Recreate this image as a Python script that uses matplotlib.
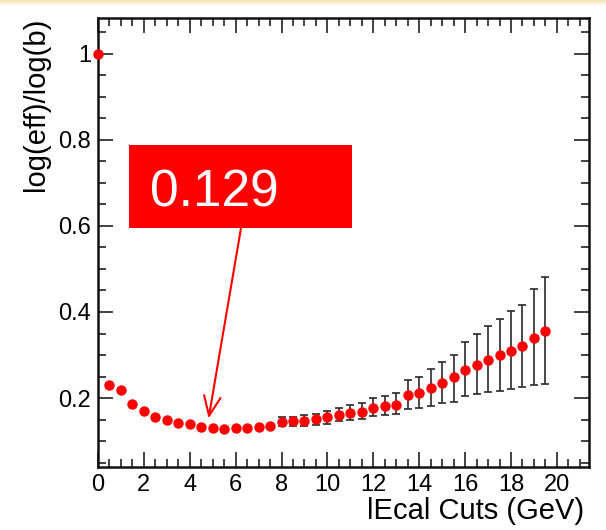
import matplotlib
matplotlib.use("Agg")
import matplotlib.pyplot as plt
from matplotlib.patches import Rectangle
from matplotlib.ticker import MultipleLocator
import numpy as np

plt.rcParams['font.family'] = ['Liberation Sans', 'DejaVu Sans']

# Data
x_cut = [0.0, 0.5, 1.0, 1.5, 2.0, 2.5, 3.0, 3.5, 4.0, 4.5,
         5.0, 5.5, 6.0, 6.5, 7.0, 7.5, 8.0, 8.5, 9.0, 9.5,
         10.0, 10.5, 11.0, 11.5, 12.0, 12.5, 13.0, 13.5, 14.0, 14.5,
         15.0, 15.5, 16.0, 16.5, 17.0, 17.5, 18.0, 18.5, 19.0, 19.5]
ratio = [1.000, 0.230, 0.220, 0.187, 0.171, 0.157, 0.150, 0.143, 0.139, 0.133,
         0.130, 0.129, 0.130, 0.131, 0.134, 0.136, 0.145, 0.146, 0.148, 0.151,
         0.155, 0.161, 0.165, 0.168, 0.177, 0.181, 0.185, 0.208, 0.212, 0.224,
         0.235, 0.248, 0.265, 0.278, 0.289, 0.299, 0.310, 0.320, 0.340, 0.357]
err_low = [0.000, 0.000, 0.000, 0.000, 0.000, 0.000, 0.000, 0.000, 0.000, 0.000,
           0.000, 0.000, 0.000, 0.000, 0.000, 0.000, 0.010, 0.011, 0.012, 0.013,
           0.014, 0.015, 0.016, 0.017, 0.019, 0.020, 0.022, 0.033, 0.035, 0.042,
           0.047, 0.056, 0.059, 0.068, 0.075, 0.082, 0.089, 0.095, 0.109, 0.124]
err_high = [0.000, 0.000, 0.000, 0.000, 0.000, 0.000, 0.000, 0.000, 0.000, 0.000,
            0.000, 0.000, 0.000, 0.000, 0.000, 0.000, 0.010, 0.011, 0.012, 0.013,
            0.014, 0.017, 0.019, 0.020, 0.024, 0.024, 0.027, 0.035, 0.038, 0.044,
            0.048, 0.052, 0.065, 0.070, 0.078, 0.085, 0.092, 0.097, 0.114, 0.124]
min_label = "0.129"
xlabel = "lEcal Cuts (GeV)"
ylabel = "log(eff)/log(b)"

fig = plt.figure(figsize=(6.06, 5.30), dpi=100)
fig.patch.set_facecolor('white')

# top yellow band (slide background)
band = fig.add_axes([0, 1 - 6/530, 1, 6/530])
grad = np.linspace(0, 1, 50).reshape(-1, 1)
band.imshow(grad, aspect='auto', cmap=matplotlib.colors.LinearSegmentedColormap.from_list(
    'b', ['#F6E3AE', '#FFFFFF']), extent=[0, 1, 0, 1])
band.axis('off')

ax = fig.add_axes([98/606, 1 - 467/530, (589-98)/606, (467-17.5)/530])

ax.errorbar(x_cut, ratio, yerr=[err_low, err_high], fmt='none', ecolor='#2a2a2a',
            elinewidth=1.2, capsize=3.2, capthick=1.2, zorder=2)
ax.plot(x_cut, ratio, 'o', color='#FF0000', markersize=7.5, markeredgewidth=0, zorder=3,
        clip_on=False)

ax.set_xlim(0, 21.4)
ax.set_ylim(0.04, 1.084)
ax.xaxis.set_major_locator(MultipleLocator(2))
ax.xaxis.set_minor_locator(MultipleLocator(0.5))
ax.yaxis.set_minor_locator(MultipleLocator(0.05))
ax.set_yticks([0.2, 0.4, 0.6, 0.8, 1.0])
ax.set_yticklabels(['0.2', '0.4', '0.6', '0.8', '1'])
ax.tick_params(which='both', direction='in', top=True, right=True, width=1.2,
               color='#222222', labelsize=17, pad=5)
ax.tick_params(which='major', length=11)
ax.tick_params(which='minor', length=5.5)
for s in ax.spines.values():
    s.set_linewidth(1.8)
    s.set_color('#111111')

ax.set_xlabel(xlabel, fontsize=21, loc='right', labelpad=1)
ax.xaxis.label.set_x(0.99)
ax.set_ylabel(ylabel, fontsize=21, loc='top', labelpad=6)

# annotation box
ax.add_patch(Rectangle((1.35, 0.594), 9.74, 0.193, facecolor='#FF0000',
                       edgecolor='none', zorder=5))
ax.text(2.27, 0.645, min_label, color='white', fontsize=37, va='baseline',
        ha='left', zorder=6)
ax.annotate('', xy=(4.82, 0.153), xytext=(6.23, 0.594),
            arrowprops=dict(arrowstyle='->,head_length=0.7,head_width=0.3',
                            color='#FF0000', lw=1.5, mutation_scale=20,
                            shrinkA=0, shrinkB=0), zorder=6)

fig.savefig('out.png', dpi=100)
